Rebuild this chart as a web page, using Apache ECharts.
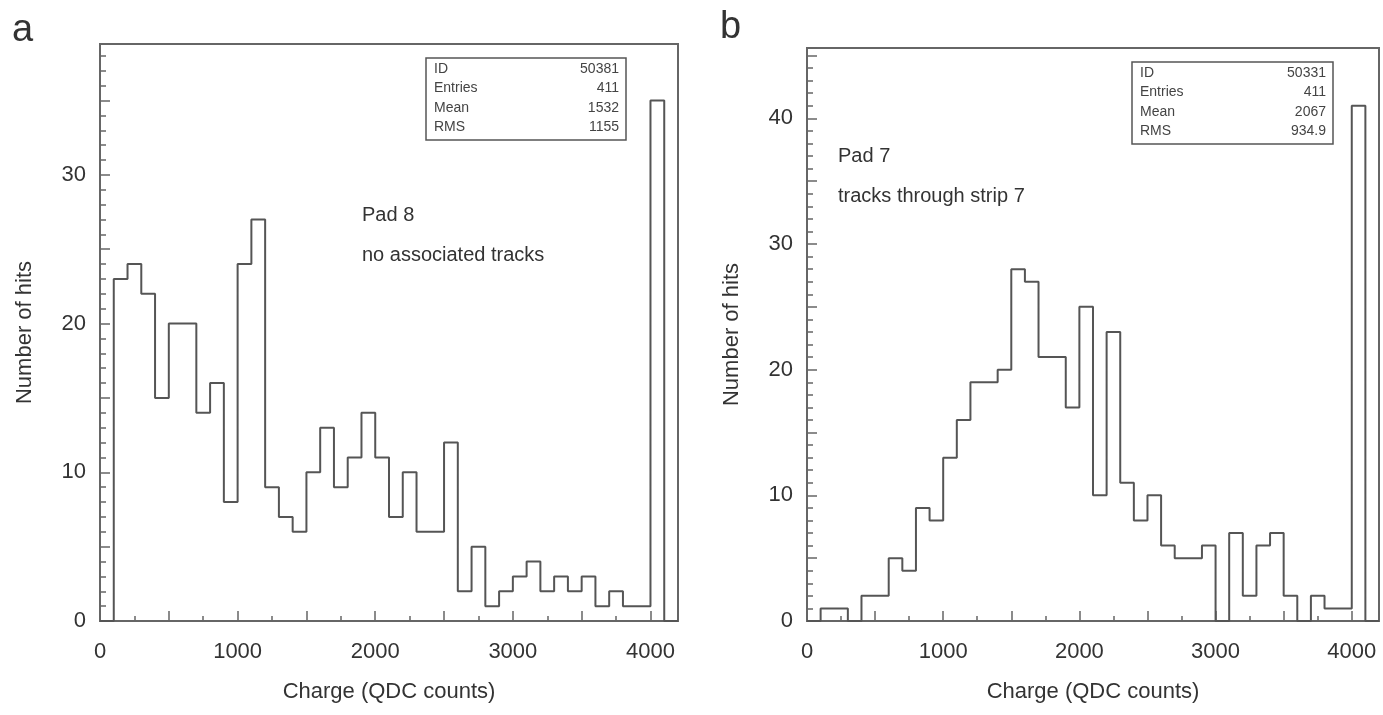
<!DOCTYPE html>
<html><head><meta charset="utf-8">
<script src="https://cdn.jsdelivr.net/npm/echarts@6/dist/echarts.min.js"></script>
<style>html,body{margin:0;padding:0;background:#fff}#c{width:1383px;height:715px}</style>
</head><body><div id="c"></div>
<script>
// Bin lower edges (QDC counts), bin width 100, upper edge of last bin 4200
const binStarts = [0,100,200,300,400,500,600,700,800,900,1000,1100,1200,1300,1400,1500,1600,1700,1800,1900,2000,
  2100,2200,2300,2400,2500,2600,2700,2800,2900,3000,3100,3200,3300,3400,3500,3600,3700,3800,3900,4000,4100];
const lastEdge = 4200;
// Panel a: Pad 8, no associated tracks
const pad8Counts = [0,23,24,22,15,20,20,14,16,8,24,27,9,7,6,10,13,9,11,14,11,
  7,10,6,6,12,2,5,1,2,3,4,2,3,2,3,1,2,1,1,35,0];
// Panel b: Pad 7, tracks through strip 7
const pad7Counts = [0,1,1,0,2,2,5,4,9,8,13,16,19,19,20,28,27,21,21,17,25,
  10,23,11,8,10,6,5,5,6,0,7,2,6,7,2,0,2,1,1,41,0];
const xTickLabels = [0,1000,2000,3000,4000];
const statsA = [['ID','50381'],['Entries','411'],['Mean','1532'],['RMS','1155']];
const statsB = [['ID','50331'],['Entries','411'],['Mean','2067'],['RMS','934.9']];
const noteA = ['Pad 8','no associated tracks'];
const noteB = ['Pad 7','tracks through strip 7'];

const FF = '"Liberation Sans", Arial, sans-serif';
const frameColor = '#666';
const lineColor = '#555';
const textColor = '#333';

function stepData(counts){
  const d = binStarts.map((x,i)=>[x, counts[i]]);
  d.push([lastEdge, counts[counts.length-1]]);
  return d;
}

function xAxes(g){
  return {
    gridIndex:g, type:'value', min:0, max:lastEdge, interval:500, position:'bottom',
    name:'Charge (QDC counts)', nameLocation:'middle', nameGap:60,
    nameTextStyle:{fontSize:22, color:textColor, fontFamily:FF},
    axisLine:{show:true, onZero:false, lineStyle:{color:frameColor, width:2}},
    axisTick:{show:true, inside:true, length:10, lineStyle:{color:frameColor, width:1.5}},
    minorTick:{show:true, splitNumber:2, length:5, lineStyle:{color:frameColor, width:1.5}},
    axisLabel:{fontSize:22, color:textColor, fontFamily:FF, margin:20,
      formatter:v => xTickLabels.indexOf(v) >= 0 ? String(v) : ''},
    splitLine:{show:false}, minorSplitLine:{show:false}
  };
}
function yAxesFor(g, max, nameGap){
  return [{
    gridIndex:g, type:'value', min:0, max:max, interval:5, position:'left',
    name:'Number of hits', nameLocation:'middle', nameGap:nameGap,
    nameTextStyle:{fontSize:22, color:textColor, fontFamily:FF},
    axisLine:{show:true, onZero:false, lineStyle:{color:frameColor, width:2}},
    axisTick:{show:true, inside:true, length:10, lineStyle:{color:frameColor, width:1.5}},
    axisLabel:{fontSize:22, color:textColor, fontFamily:FF, margin:14,
      formatter:v => (v % 10 === 0) ? String(v) : ''},
    splitLine:{show:false}
  },{
    gridIndex:g, type:'value', min:0, max:max, interval:1, position:'left', offset:0,
    axisLine:{show:false, onZero:false},
    axisTick:{show:true, inside:true, length:6, lineStyle:{color:frameColor, width:1.5}},
    axisLabel:{show:false}, splitLine:{show:false}
  }];
}

function statsBox(x, y, w, rows){
  const els = [{type:'rect', shape:{x:x, y:y, width:w, height:82},
    style:{fill:'#fff', stroke:'#555', lineWidth:1.5}}];
  rows.forEach((r,i)=>{
    els.push({type:'text', x:x+8, y:y+11+i*19.5, style:{text:r[0], font:'14px '+FF, fill:'#444', verticalAlign:'middle'}});
    els.push({type:'text', x:x+w-7, y:y+11+i*19.5, style:{text:r[1], font:'14px '+FF, fill:'#444', align:'right', verticalAlign:'middle'}});
  });
  return els;
}
function note(x, y, lines){
  return lines.map((t,i)=>({type:'text', x:x, y:y+i*40, style:{text:t, font:'20px '+FF, fill:textColor, verticalAlign:'middle'}}));
}

const chart = echarts.init(document.getElementById('c'), null, {renderer:'canvas'});
const yA = yAxesFor(0, 38.8, 64);
const yB = yAxesFor(1, 45.6, 64);
chart.setOption({
  animation:false,
  backgroundColor:'#fff',
  grid:[
    {left:100, top:44, width:578, height:577, show:true, borderColor:frameColor, borderWidth:2, backgroundColor:'transparent', containLabel:false, outerBoundsMode:'none'},
    {left:807, top:48, width:572, height:573, show:true, borderColor:frameColor, borderWidth:2, backgroundColor:'transparent', containLabel:false, outerBoundsMode:'none'}
  ],
  xAxis:[xAxes(0), xAxes(1)],
  yAxis:[yA[0], yA[1], yB[0], yB[1]],
  series:[
    {type:'line', xAxisIndex:0, yAxisIndex:0, step:'end', showSymbol:false, symbol:'none',
      lineStyle:{color:lineColor, width:2}, data:stepData(pad8Counts), clip:true},
    {type:'line', xAxisIndex:1, yAxisIndex:2, step:'end', showSymbol:false, symbol:'none',
      lineStyle:{color:lineColor, width:2}, data:stepData(pad7Counts), clip:true}
  ],
  graphic:[
    {type:'text', x:12, y:31, style:{text:'a', font:'38px '+FF, fill:textColor, verticalAlign:'middle'}},
    {type:'text', x:720, y:28, style:{text:'b', font:'38px '+FF, fill:textColor, verticalAlign:'middle'}},
    ...statsBox(426, 58, 200, statsA),
    ...statsBox(1132, 62, 201, statsB),
    ...note(362, 215, noteA),
    ...note(838, 156, noteB)
  ]
});
</script></body></html>
